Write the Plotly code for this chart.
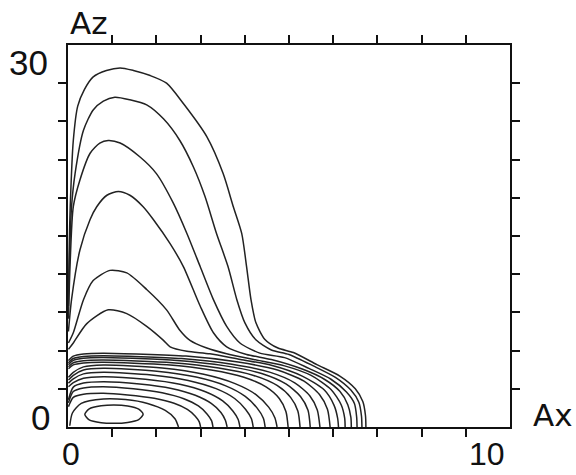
import plotly.graph_objects as go

# ---- contour lines, as (Ax, Az) pairs ----
ARCH_1 = [(0.01, 10.5), (0.03, 14.5), (0.05, 17.3), (0.12, 22.5), (0.22, 25.2), (0.37, 26.5),
          (0.57, 27.5), (0.87, 28.0), (1.18, 28.2), (1.48, 28.0), (1.86, 27.6), (2.23, 27.0),
          (2.61, 25.4), (3.14, 22.8), (3.51, 19.9), (3.74, 17.3), (3.93, 15.2), (4.04, 12.6),
          (4.14, 10.0), (4.25, 8.2), (4.45, 6.9), (4.75, 6.2), (5.1, 5.85), (5.63, 4.9),
          (6.15, 4.0), (6.5, 3.0), (6.67, 2.0), (6.73, 0.9), (6.74, 0.0)]
ARCH_2 = [(0.01, 9.5), (0.04, 14.0), (0.08, 17.3), (0.16, 19.9), (0.35, 23.3), (0.57, 24.9),
          (0.8, 25.6), (1.06, 25.9), (1.4, 25.7), (1.78, 25.3), (2.16, 24.2), (2.53, 22.5),
          (2.84, 20.4), (3.1, 18.1), (3.36, 15.2), (3.62, 12.6), (3.82, 10.0), (4.0, 8.2),
          (4.25, 6.85), (4.6, 6.05), (5.0, 5.7), (5.55, 4.8), (6.05, 3.9), (6.4, 2.9),
          (6.58, 1.95), (6.64, 0.85), (6.65, 0.0)]
ARCH_3 = [(0.01, 8.5), (0.05, 13.0), (0.12, 17.3), (0.27, 19.4), (0.5, 21.5), (0.72, 22.3),
          (0.91, 22.5), (1.18, 22.3), (1.63, 21.2), (2.0, 19.9), (2.38, 17.6), (2.69, 15.2),
          (2.99, 12.6), (3.29, 10.0), (3.59, 7.9), (3.89, 6.6), (4.34, 5.8), (4.9, 5.45),
          (5.45, 4.6), (5.95, 3.75), (6.3, 2.75), (6.48, 1.85), (6.53, 0.8), (6.54, 0.0)]
ARCH_4 = [(0.01, 7.5), (0.08, 10.0), (0.27, 13.9), (0.5, 16.3), (0.65, 17.3), (0.88, 18.2),
          (1.14, 18.5), (1.4, 18.2), (1.7, 17.3), (1.93, 16.3), (2.31, 14.4), (2.61, 12.6),
          (2.99, 9.5), (3.29, 7.4), (3.59, 6.3), (4.04, 5.7), (4.6, 5.3), (5.3, 4.55),
          (5.8, 3.75), (6.15, 2.8), (6.33, 1.75), (6.4, 0.75), (6.41, 0.0)]
ARCH_5 = [(0.01, 6.6), (0.12, 7.4), (0.35, 10.0), (0.57, 11.5), (0.95, 12.3), (1.33, 12.1),
          (1.78, 10.8), (2.23, 9.2), (2.53, 7.6), (2.76, 6.8), (3.14, 6.2), (3.59, 5.75),
          (4.2, 5.3), (4.9, 4.8), (5.5, 4.05), (5.95, 2.95), (6.18, 1.75), (6.26, 0.7), (6.27, 0.0)]
ARCH_6 = [(0.01, 6.1), (0.12, 6.6), (0.42, 8.1), (0.91, 9.2), (1.33, 8.9), (1.78, 7.9),
          (2.16, 6.8), (2.31, 6.3), (2.69, 5.95), (3.21, 5.75), (3.9, 5.3), (4.6, 4.85),
          (5.3, 4.0), (5.8, 2.9), (6.02, 1.7), (6.1, 0.7), (6.12, 0.0)]

BAND_M = [(0.01, 5.22), (0.12, 5.57), (0.35, 5.74), (0.8, 5.8), (2.67, 5.57), (3.85, 5.1),
          (4.74, 4.47), (5.34, 3.6), (5.69, 2.55), (5.87, 1.39), (5.93, 0.0)]
BAND_L = [(0.01, 5.04), (0.12, 5.38), (0.35, 5.54), (0.8, 5.6), (2.57, 5.38), (3.71, 4.93),
          (4.56, 4.31), (5.13, 3.47), (5.47, 2.46), (5.64, 1.34), (5.7, 0.0)]
BAND_K = [(0.01, 4.9), (0.12, 5.23), (0.35, 5.4), (0.8, 5.45), (2.47, 5.23), (3.56, 4.8),
          (4.38, 4.2), (4.93, 3.38), (5.26, 2.4), (5.43, 1.31), (5.48, 0.0)]
BAND_J = [(0.01, 4.73), (0.12, 5.05), (0.35, 5.21), (0.8, 5.26), (2.36, 5.05), (3.41, 4.63),
          (4.2, 4.05), (4.73, 3.26), (5.04, 2.31), (5.2, 1.26), (5.25, 0.0)]
BAND_I = [(0.01, 4.57), (0.12, 4.88), (0.35, 5.03), (0.8, 5.08), (2.24, 4.88), (3.24, 4.47),
          (3.98, 3.91), (4.48, 3.15), (4.78, 2.24), (4.93, 1.22), (4.98, 0.0)]
LOWER_H = [(0.01, 3.9), (0.12, 4.29), (0.35, 4.72), (0.8, 4.87), (2.13, 4.63), (3.07, 4.14),
           (3.78, 3.41), (4.26, 2.53), (4.54, 1.56), (4.68, 0.73), (4.73, 0.0)]
LOWER_G = [(0.01, 3.69), (0.12, 4.06), (0.35, 4.47), (0.8, 4.61), (2.01, 4.38), (2.9, 3.92),
           (3.57, 3.23), (4.01, 2.4), (4.28, 1.48), (4.42, 0.69), (4.46, 0.0)]
LOWER_F = [(0.01, 3.44), (0.12, 3.78), (0.35, 4.17), (0.8, 4.3), (1.89, 4.09), (2.72, 3.66),
           (3.35, 3.01), (3.77, 2.24), (4.02, 1.38), (4.15, 0.65), (4.19, 0.0)]
LOWER_E = [(0.01, 3.16), (0.12, 3.48), (0.35, 3.83), (0.8, 3.95), (1.75, 3.75), (2.53, 3.36),
           (3.11, 2.77), (3.5, 2.05), (3.73, 1.26), (3.85, 0.59), (3.89, 0.0)]
LOWER_D = [(0.01, 2.14), (0.12, 3.13), (0.35, 3.45), (0.8, 3.56), (1.62, 3.38), (2.34, 3.03),
           (2.88, 2.49), (3.24, 1.85), (3.46, 1.14), (3.56, 0.53), (3.6, 0.0)]
LOWER_C = [(0.01, 1.9), (0.12, 2.79), (0.35, 3.07), (0.8, 3.17), (1.48, 3.01), (2.13, 2.69),
           (2.62, 2.22), (2.95, 1.65), (3.15, 1.01), (3.25, 0.48), (3.28, 0.0)]
LOWER_B = [(0.01, 1.6), (0.12, 2.33), (0.35, 2.57), (0.8, 2.65), (1.35, 2.52), (1.95, 2.25),
           (2.4, 1.86), (2.7, 1.38), (2.88, 0.85), (2.97, 0.4), (3.0, 0.0)]
LOWER_A = [(0.04, 0.1), (0.1, 1.1), (0.3, 1.85), (0.8, 2.2), (1.3, 2.15), (1.8, 1.85),
           (2.2, 1.3), (2.42, 0.65), (2.5, 0.0)]
INNER_LOOP = [(0.38, 1.0), (0.48, 1.42), (0.75, 1.66), (1.04, 1.73), (1.35, 1.65), (1.6, 1.4),
              (1.7, 1.0), (1.6, 0.58), (1.35, 0.36), (1.04, 0.29), (0.75, 0.34), (0.48, 0.56),
              (0.38, 1.0)]

CONTOURS = [ARCH_1, ARCH_2, ARCH_3, ARCH_4, ARCH_5, ARCH_6,
            BAND_M, BAND_L, BAND_K, BAND_J, BAND_I,
            LOWER_H, LOWER_G, LOWER_F, LOWER_E, LOWER_D, LOWER_C, LOWER_B, LOWER_A,
            INNER_LOOP]

X_RANGE = [0, 10]
Y_RANGE = [0, 30]
X_TICKS = [1, 2, 3, 4, 5, 6, 7, 8, 9]
Y_TICKS = [3, 6, 9, 12, 15, 18, 21, 24, 27]
X_TICK_TEXT = ["0", "10"]
Y_TICK_TEXT = ["0", "30"]
X_TITLE = "Ax"
Y_TITLE = "Az"

fig = go.Figure()
for line in CONTOURS:
    fig.add_trace(go.Scatter(
        x=[p[0] for p in line], y=[p[1] for p in line],
        mode="lines", line=dict(color="#222222", width=1.5, shape="spline", smoothing=0.7),
        hoverinfo="skip", showlegend=False))

axis_common = dict(showgrid=False, zeroline=False, showline=True, linecolor="#111111",
                   linewidth=2, mirror="ticks", ticks="outside", ticklen=8, tickwidth=1.5,
                   tickcolor="#111111", showticklabels=False)
fig.update_xaxes(range=X_RANGE, tickvals=X_TICKS, **axis_common)
fig.update_yaxes(range=Y_RANGE, tickvals=Y_TICKS, **axis_common)

digit_font = dict(family="Liberation Sans, Arial, sans-serif", size=35, color="#111111")
xdigit_font = dict(family="Liberation Sans, Arial, sans-serif", size=32, color="#111111")
title_font = dict(family="DejaVu Sans, sans-serif", size=31, color="#111111")
ann = []
# x tick labels: anchored at the page bottom so they stay inside the page
ann.append(dict(x=X_RANGE[0], y=0, yref="paper", yshift=-46, text=X_TICK_TEXT[0],
                xanchor="center", yanchor="bottom", xshift=3, font=xdigit_font, borderpad=0))
ann.append(dict(x=X_RANGE[1], y=0, yref="paper", yshift=-46, text=X_TICK_TEXT[1],
                xanchor="center", yanchor="bottom", xshift=-23, font=xdigit_font, borderpad=0))
# y tick labels
ann.append(dict(x=X_RANGE[0], y=Y_RANGE[0], text=Y_TICK_TEXT[0], xanchor="center", yanchor="middle",
                xshift=-28, yshift=10, font=digit_font))
ann.append(dict(x=X_RANGE[0], y=Y_RANGE[1], text=Y_TICK_TEXT[1], xanchor="center", yanchor="middle",
                xshift=-40, yshift=-17, font=digit_font))
# axis titles
ann.append(dict(x=X_RANGE[1], y=Y_RANGE[0], text=X_TITLE, xanchor="center", yanchor="middle",
                xshift=43, yshift=12, font=title_font))
ann.append(dict(x=X_RANGE[0], y=Y_RANGE[1], text=Y_TITLE, xanchor="center", yanchor="middle",
                xshift=20, yshift=22, font=title_font))
for a in ann:
    a.setdefault("yref", "y")
    a.update(xref="x", showarrow=False)

fig.update_layout(width=576, height=475, margin=dict(l=68, r=66, t=45, b=48),
                  paper_bgcolor="white", plot_bgcolor="white", annotations=ann)

fig.write_html("out.html")
